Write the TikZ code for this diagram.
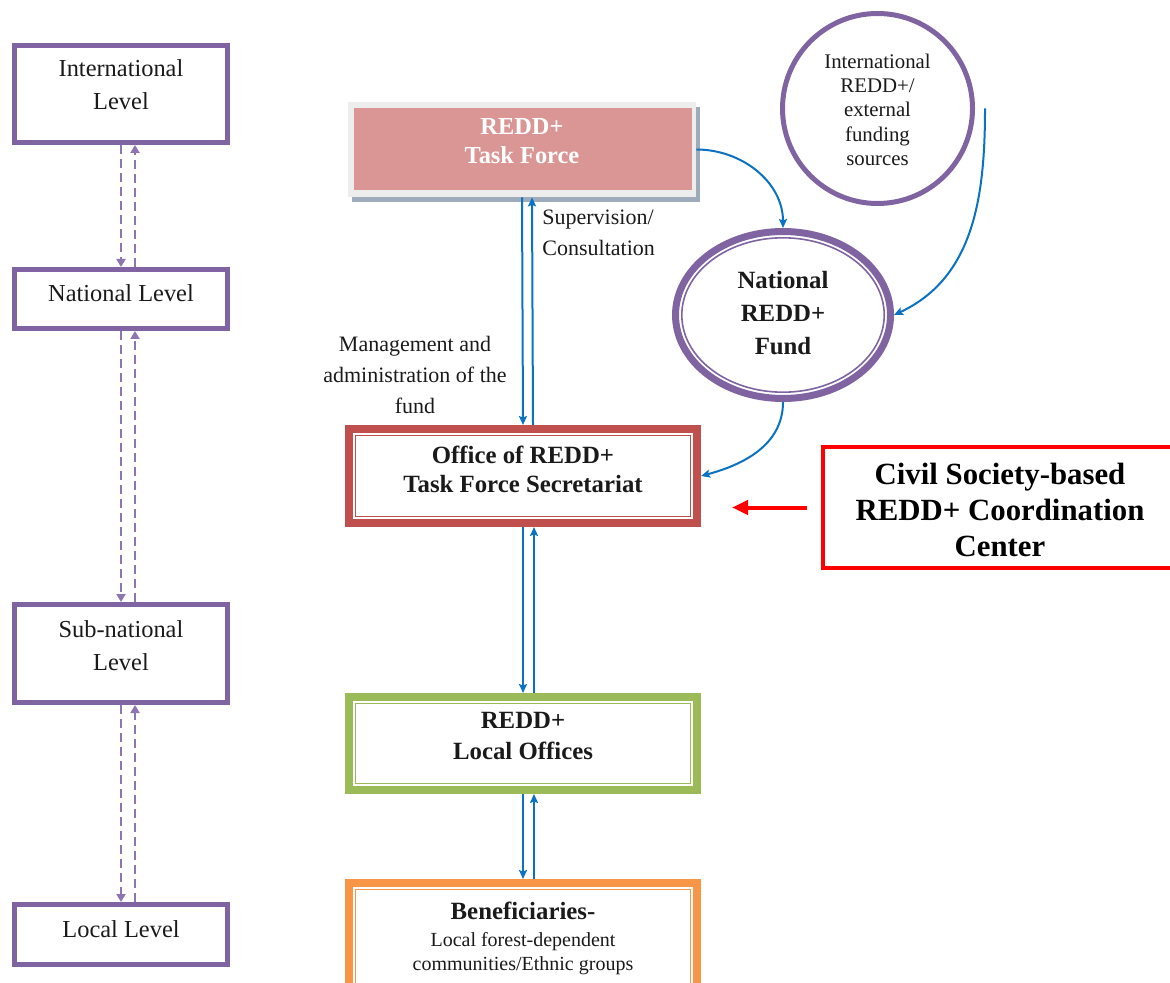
\documentclass[tikz,border=0pt]{standalone}
\usepackage{fontspec}
\setmainfont{Liberation Serif}
\usetikzlibrary{arrows.meta,shapes.geometric,shadows}
\definecolor{lvpurple}{HTML}{8064A2}
\definecolor{dashpurple}{HTML}{8D74B3}
\definecolor{offred}{HTML}{C0504D}
\definecolor{locgreen}{HTML}{9BBB59}
\definecolor{benorange}{HTML}{F79646}
\definecolor{tfpink}{HTML}{D99694}
\definecolor{tfframe}{HTML}{EDEDED}
\definecolor{tfshadow}{HTML}{9DABBB}
\definecolor{arrblue}{HTML}{0A72C2}
\definecolor{civred}{HTML}{FF0000}
\definecolor{txtcol}{HTML}{1A1A1A}
\newcommand\bt[2]{\raisebox{#1}[0pt][0pt]{\begin{tabular}{@{}c@{}}#2\end{tabular}}}
\newcommand\ct[1]{\begin{tabular}{@{}c@{}}#1\end{tabular}}
\tikzset{
  levelbox/.style={draw=lvpurple, line width=2.5pt, minimum width=106.5pt, inner sep=0pt,
    text=txtcol, font=\fontsize{12.2}{16.5}\selectfont},
  dblbox/.style={draw=#1, line width=4pt, minimum width=174pt, minimum height=47pt, inner sep=0pt,
    fill=white, text=txtcol,
    path picture={\draw[#1, line width=0.75pt]
      ([xshift=3.2pt,yshift=-3.2pt]path picture bounding box.north west) rectangle
      ([xshift=-3.2pt,yshift=3.2pt]path picture bounding box.south east);}},
  dasharr/.style={draw=dashpurple, line width=1.3pt, dash pattern=on 4.5pt off 2.5pt,
    -{Triangle[length=4pt,width=4.5pt]}},
  barr/.style={draw=arrblue, line width=1pt, -{Stealth[length=4.5pt,width=4pt,inset=0.8pt]}},
  lbl/.style={inner sep=0pt, text=txtcol, font=\fontsize{11}{15.5}\selectfont},
  tfbox/.style={minimum width=174pt, minimum height=47.5pt, inner sep=0pt, fill=tfframe,
    drop shadow={shadow xshift=2pt,shadow yshift=-2.5pt,fill=tfshadow,opacity=1},
    path picture={\fill[tfpink]
      ([xshift=3pt,yshift=-3pt]path picture bounding box.north west) rectangle
      ([xshift=-2pt,yshift=3.5pt]path picture bounding box.south east);},
    text=white, font=\bfseries\fontsize{12.2}{14.5}\selectfont},
  fundell/.style={ellipse, draw=lvpurple, line width=3.5pt, minimum width=107.5pt,
    minimum height=83.5pt, inner sep=0pt, fill=white,
    path picture={\draw[lvpurple, line width=0.8pt] (path picture bounding box.center)
      ellipse [x radius=50.6pt, y radius=38.6pt];},
    text=txtcol, font=\bfseries\fontsize{12.4}{16.5}\selectfont},
  srccirc/.style={circle, draw=lvpurple, line width=2.5pt, minimum size=95pt, inner sep=0pt,
    text=txtcol, font=\fontsize{10.4}{12.2}\selectfont},
  civbox/.style={draw=civred, line width=2pt, minimum width=177pt, minimum height=60.5pt,
    inner sep=0pt, text=black, font=\bfseries\fontsize{15.4}{18}\selectfont},
  redarr/.style={draw=civred, line width=2pt, -{Triangle[length=8pt,width=7pt]}},
}
\begin{document}
\begin{tikzpicture}[x=0.5pt,y=-0.5pt]
\useasboundingbox (0,0) rectangle (1170,983);
\clip (0,0) rectangle (1170,983);

% level boxes
\node[levelbox, minimum height=48.5pt] (intl) at (121,94) {\bt{1pt}{International\\Level}};
\node[levelbox, minimum height=29.5pt] (natl) at (121,299) {\bt{-1.2pt}{National Level}};
\node[levelbox, minimum height=49pt] (subn) at (121,653.5) {\bt{0pt}{Sub-national\\Level}};
\node[levelbox, minimum height=30pt] (locl) at (121,934.5) {\bt{-1pt}{Local Level}};

% central column
\node[tfbox] (tf) at (522,149.5) {\bt{0pt}{REDD+\\Task Force}};
\node[dblbox=offred, font=\bfseries\fontsize{12.4}{14.5}\selectfont] (office) at (523,476)
  {\bt{-1pt}{Office of REDD+\\Task Force Secretariat}};
\node[dblbox=locgreen, minimum height=46.5pt, font=\bfseries\fontsize{12.4}{15.5}\selectfont] (locoff) at (523,743.5)
  {\bt{0pt}{REDD+\\Local Offices}};
\node[dblbox=benorange, minimum height=57pt, font=\fontsize{10}{12}\selectfont] (ben) at (523,940)
  {\ct{{\bfseries\fontsize{12.4}{14}\selectfont Beneficiaries-}\\[1.5pt]
   Local forest-dependent\\communities/Ethnic groups}};

% funds
\node[srccirc] (circ) at (877.5,108.5) {\bt{-4.3pt}{International\\REDD+/\\external\\funding\\sources}};
\node[fundell] (fund) at (783,315) {\ct{National\\REDD+\\Fund}};

% civil society
\node[civbox] (civ) at (1000,507.5) {\bt{-6.6pt}{Civil Society-based\\REDD+ Coordination\\Center}};

% labels
\node[lbl, anchor=west] (sup) at (542,234) {\begin{tabular}{@{}l@{}}Supervision/\\Consultation\end{tabular}};
\node[lbl] (mgmt) at (415,376) {\ct{Management and\\administration of the\\fund}};

% dashed level arrows
\draw[dasharr] (intl.south) -- (natl.north);
\draw[dasharr] ([xshift=7pt]natl.north) -- ([xshift=7pt]intl.south);
\draw[dasharr] (natl.south) -- (subn.north);
\draw[dasharr] ([xshift=7pt]subn.north) -- ([xshift=7pt]natl.south);
\draw[dasharr] (subn.south) -- (locl.north);
\draw[dasharr] ([xshift=7pt]locl.north) -- ([xshift=7pt]subn.south);

% blue vertical arrows
\draw[barr] (tf.south) -- (office.north);
\draw[barr] ([xshift=5pt]office.north) -- ([xshift=5pt]tf.south);
\draw[barr] (office.south) -- (locoff.north);
\draw[barr] ([xshift=5.5pt]locoff.north) -- ([xshift=5.5pt]office.south);
\draw[barr] (locoff.south) -- (ben.north);
\draw[barr] ([xshift=5.5pt]ben.north) -- ([xshift=5.5pt]locoff.south);

% curved arrows
\draw[barr] (tf.east) to[out=0,in=90] (fund.north);
\draw[barr] ([xshift=5pt]circ.east) to[out=-90,in=25] (fund.east);
\draw[barr] (fund.south) to[out=-90,in=15] (office.east);

% red arrow
\draw[redarr, shorten <=7pt, shorten >=15.5pt] (civ.west) -- (civ.west -| office.east);
\end{tikzpicture}
\end{document}
